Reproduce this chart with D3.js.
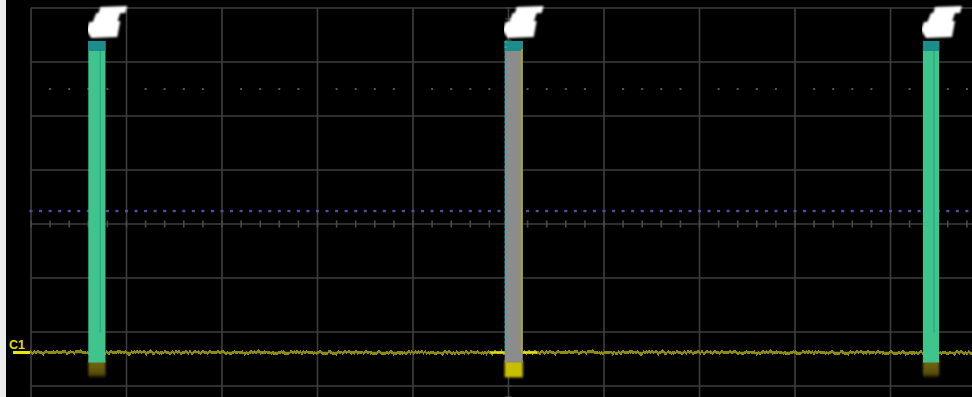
<!DOCTYPE html>
<html><head><meta charset="utf-8">
<script src="https://cdn.jsdelivr.net/npm/d3@7"></script>
<style>body{margin:0;background:#000;overflow:hidden}</style>
</head><body>
<script>
var width=972, height=397;
// scope screen in divisions: 10 across, 8 high (bottom is cut off)
var xDivs=d3.range(-5,6);
var yDivs=d3.range(-4,5);
var pulseStart=[-4.40,-0.04,4.34];
var pulseEnd=[-4.22,0.15,4.51];
var pulseTop=3.39;
var baseLevel=-2.38;
var smearBottom=-2.84;
var triggerLevel=0.24;   // blue dotted line
var refLevel=2.5;        // grey dotted line
var liveSpan=[-0.19,0.30];
var liveIndex=1;
var channel="C1";

var x=d3.scaleLinear().domain([-5,5]).range([31,986]);
var y=d3.scaleLinear().domain([4,-4]).range([8,440]);

var svg=d3.select("body").append("svg").attr("width",width).attr("height",height).style("display","block");
var defs=svg.append("defs");
function blurFilter(id,sd){
  defs.append("filter").attr("id",id).attr("filterUnits","userSpaceOnUse").attr("x",0).attr("y",0).attr("width",width).attr("height",height)
    .append("feGaussianBlur").attr("stdDeviation",sd);
}
blurFilter("soft",0.6);
blurFilter("blur2",1.0);
blurFilter("blob",1.0);
var nf=defs.append("filter").attr("id","noise").attr("filterUnits","userSpaceOnUse").attr("x",0).attr("y",300).attr("width",width).attr("height",90);
nf.append("feTurbulence").attr("type","fractalNoise").attr("baseFrequency","0.5 0.03").attr("numOctaves",2).attr("seed",3).attr("result","t");
nf.append("feDisplacementMap").attr("in","SourceGraphic").attr("in2","t").attr("scale",6).attr("xChannelSelector","G").attr("yChannelSelector","R").attr("result","d");
nf.append("feGaussianBlur").attr("in","d").attr("stdDeviation",0.5);
var sg=defs.append("linearGradient").attr("id","smear").attr("x1",0).attr("x2",0).attr("y1",0).attr("y2",1);
sg.append("stop").attr("offset","0%").attr("stop-color","#756a0a");
sg.append("stop").attr("offset","75%").attr("stop-color","#5a4f08");
sg.append("stop").attr("offset","100%").attr("stop-color","#1a1600");

svg.append("rect").attr("width",width).attr("height",height).attr("fill","#000");
svg.append("rect").attr("x",0).attr("y",0).attr("width",6).attr("height",height).attr("fill","#ececec");

// grid
var grid=svg.append("g").attr("stroke","#3e3e3e").attr("stroke-width",1.6).attr("filter","url(#soft)");
grid.selectAll(".v").data(xDivs).enter().append("line")
  .attr("x1",d=>x(d)).attr("x2",d=>x(d)).attr("y1",y(4)).attr("y2",y(-4));
grid.selectAll(".h").data(yDivs).enter().append("line")
  .attr("x1",x(-5)).attr("x2",x(5)).attr("y1",d=>y(d)).attr("y2",d=>y(d));
// minor ticks on centre axes
var minorX=d3.range(-5,5.01,0.2);
grid.selectAll(".mx").data(minorX).enter().append("line").attr("stroke","#4a4a4a")
  .attr("x1",d=>x(d)).attr("x2",d=>x(d)).attr("y1",y(0)-3.5).attr("y2",y(0)+3.5);
var minorY=d3.range(-4,4.01,0.2);
grid.selectAll(".my").data(minorY).enter().append("line")
  .attr("x1",x(0)-3).attr("x2",x(0)+3).attr("y1",d=>y(d)).attr("y2",d=>y(d));

// grey reference dots
svg.append("g").selectAll("rect").data(minorX.filter(d=>Math.abs(d-Math.round(d))>0.05)).enter().append("rect")
  .attr("x",d=>x(d)-1).attr("y",y(refLevel)-1).attr("width",2).attr("height",2).attr("fill","#555");

// blue trigger level dots
svg.append("g").selectAll("rect").data(d3.range(-5,5.01,0.1)).enter().append("rect")
  .attr("x",d=>x(d)-1.5).attr("y",y(triggerLevel)-1.2).attr("width",3).attr("height",2.4).attr("fill","#4f4fa6");

// baseline trace (persistence, noisy)
svg.append("line").attr("x1",x(-5)).attr("x2",width).attr("y1",y(baseLevel)).attr("y2",y(baseLevel))
  .attr("stroke","#8c8912").attr("stroke-width",2.8).attr("filter","url(#noise)");
svg.append("line").attr("x1",x(-5)).attr("x2",width).attr("y1",y(baseLevel)).attr("y2",y(baseLevel))
  .attr("stroke","#8f8c14").attr("stroke-width",1.4);

// live (bright) trace around the middle pulse
svg.append("line").attr("x1",x(liveSpan[0])).attr("x2",x(liveSpan[1])).attr("y1",y(baseLevel)).attr("y2",y(baseLevel))
  .attr("stroke","#e2dc10").attr("stroke-width",2.6);

// smear under pulses
var pulses=pulseStart.map((s,i)=>({s:s,e:pulseEnd[i],live:i===liveIndex}));
svg.append("g").selectAll("rect").data(pulses).enter().append("rect")
  .attr("x",d=>x(d.s)).attr("width",d=>x(d.e)-x(d.s))
  .attr("y",y(baseLevel)+8).attr("height",y(smearBottom)-y(baseLevel)-8)
  .attr("fill",d=>d.live?"#c8be06":"url(#smear)").attr("filter","url(#blur2)");

// pulse bars
var pg=svg.append("g").selectAll("g").data(pulses).enter().append("g");
pg.append("rect").attr("x",d=>x(d.s)).attr("width",d=>x(d.e)-x(d.s))
  .attr("y",y(pulseTop)).attr("height",y(baseLevel)+10-y(pulseTop))
  .attr("fill",d=>d.live?"#8c8c8c":"#3fc48d");
pg.filter(d=>!d.live).append("rect").attr("x",d=>x(d.e)-6).attr("width",1.5)
  .attr("y",y(pulseTop)).attr("height",y(baseLevel)-20-y(pulseTop)).attr("fill","#2a9e86").attr("opacity",0.7);
pg.append("rect").attr("x",d=>x(d.s)).attr("width",d=>x(d.e)-x(d.s))
  .attr("y",y(pulseTop)).attr("height",10).attr("fill","#1a8c8c").attr("filter","url(#soft)");
pg.filter(d=>d.live).append("line").attr("x1",d=>x(d.s)+1).attr("x2",d=>x(d.s)+1)
  .attr("y1",y(pulseTop)).attr("y2",y(baseLevel)).attr("stroke","#23b4b4").attr("stroke-width",2).attr("stroke-dasharray","2,3");
pg.filter(d=>d.live).append("line").attr("x1",d=>x(d.e)-1).attr("x2",d=>x(d.e)-1)
  .attr("y1",y(pulseTop)+8).attr("y2",y(baseLevel)).attr("stroke","#b4ae10").attr("stroke-width",1.5);

// trigger markers above pulses
var mk=pg.append("g").attr("transform",d=>"translate("+x(d.s)+",0)").attr("filter","url(#blob)").attr("fill","#fff");
mk.append("path").attr("d","M12,7 L39,6 L37,13 L10,14 Z");
mk.append("path").attr("d","M8,13 L32,13 L29,22 L4,23 Z");
mk.append("path").attr("d","M1,22 L32,21 L29,37 L3,38 L-2,30 Z");

// channel marker
svg.append("rect").attr("x",13).attr("y",y(baseLevel)-1.5).attr("width",17).attr("height",3).attr("fill","#ece410");
svg.append("text").attr("x",9).attr("y",y(baseLevel)-4).text(channel)
  .attr("fill","#e2da10").attr("font-family","Liberation Sans, Arial, sans-serif").attr("font-weight","bold").attr("font-size",12.5);
</script>
</body></html>
